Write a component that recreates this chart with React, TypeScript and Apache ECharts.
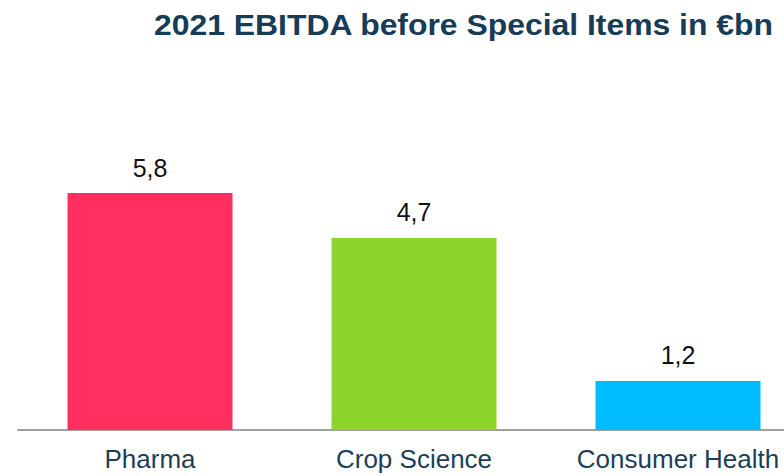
import React, { useEffect, useRef } from "react";
import * as echarts from "echarts";

const categories = ["Pharma", "Crop Science", "Consumer Health"];
const values = [5.8, 4.7, 1.2];
const colors = ["#ff2f5f", "#8dd42a", "#00bbff"];
const titleText = "2021 EBITDA before Special Items in €bn";

export default function App() {
  const ref = useRef<HTMLDivElement>(null);
  useEffect(() => {
    document.body.style.margin = "0";
    const chart = echarts.init(ref.current!, null, { renderer: "svg" });
    chart.setOption({
      animation: false,
      backgroundColor: "#ffffff",
      graphic: [
        {
          type: "text",
          x: 773,
          y: 25,
          scaleX: 1.1,
          style: {
            text: titleText,
            textAlign: "right",
            textVerticalAlign: "middle",
            fontFamily: "Liberation Sans, Arial",
            fontSize: 29,
            fontWeight: "bold",
            fill: "#173c55",
          },
        },
      ],
      grid: { left: 18, top: 144, width: 792, height: 286 },
      xAxis: {
        type: "category",
        data: categories,
        axisLine: { lineStyle: { color: "#a0a0a0", width: 2 } },
        axisTick: { show: false },
        axisLabel: {
          margin: 16,
          fontFamily: "Liberation Sans, Arial",
          fontSize: 26,
          color: "#1c3f57",
        },
      },
      yAxis: { type: "value", min: 0, max: 7, show: false, splitLine: { show: false } },
      series: [
        {
          type: "bar",
          barWidth: 165,
          data: values.map((v, i) => ({ value: v, itemStyle: { color: colors[i] } })),
          label: {
            show: true,
            position: "top",
            distance: 13,
            fontFamily: "Liberation Sans, Arial",
            fontSize: 25,
            color: "#111111",
            formatter: (p: any) => String(p.value).replace(".", ","),
          },
        },
      ],
    });
    return () => chart.dispose();
  }, []);
  return (
    <div style={{ width: 784, height: 476, overflow: "hidden", position: "relative" }}>
      <div ref={ref} style={{ width: 840, height: 476 }} />
    </div>
  );
}
